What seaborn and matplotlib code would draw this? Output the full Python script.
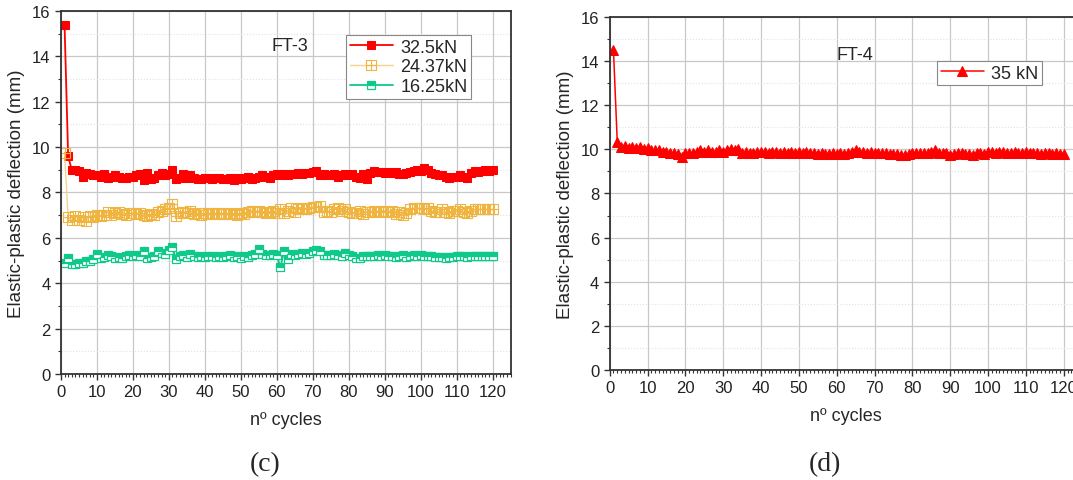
import numpy as np
import matplotlib
matplotlib.use("Agg")
import matplotlib.pyplot as plt
from matplotlib.path import Path
from matplotlib.ticker import MultipleLocator
import seaborn as sns

# Cycle numbers
cycles = list(range(1, 121))

# FT-3 series (elastic-plastic deflection, mm)
ft3_325 = [15.4, 9.6, 9.0, 9.0, 8.95, 8.7, 8.85, 8.8, 8.75, 8.75,
           8.7, 8.8, 8.65, 8.7, 8.75, 8.7, 8.65, 8.65, 8.7, 8.7,
           8.75, 8.8, 8.55, 8.85, 8.6, 8.65, 8.75, 8.85, 8.75, 8.8,
           9.0, 8.6, 8.65, 8.8, 8.65, 8.75, 8.65, 8.6, 8.6, 8.65,
           8.65, 8.6, 8.65, 8.65, 8.6, 8.6, 8.65, 8.55, 8.65, 8.6,
           8.65, 8.7, 8.6, 8.65, 8.7, 8.75, 8.7, 8.65, 8.75, 8.8,
           8.75, 8.8, 8.75, 8.8, 8.8, 8.85, 8.8, 8.85, 8.85, 8.9,
           8.95, 8.75, 8.8, 8.75, 8.75, 8.8, 8.7, 8.75, 8.8, 8.75,
           8.8, 8.7, 8.65, 8.8, 8.6, 8.85, 8.95, 8.9, 8.9, 8.85,
           8.9, 8.85, 8.9, 8.8, 8.8, 8.85, 8.9, 8.95, 9.0, 8.95,
           9.1, 9.0, 8.85, 8.8, 8.75, 8.75, 8.7, 8.65, 8.7, 8.7,
           8.75, 8.7, 8.65, 8.85, 8.95, 8.9, 8.95, 9.0, 8.95, 9.0]

ft3_2437 = [9.75, 6.9, 6.8, 6.95, 6.8, 6.9, 6.75, 6.95, 6.9, 7.0,
            6.95, 7.0, 7.15, 7.0, 7.1, 7.15, 7.05, 7.0, 7.1, 7.1,
            7.05, 7.1, 7.0, 6.95, 7.05, 7.0, 7.15, 7.2, 7.25, 7.3,
            7.5, 6.95, 7.1, 7.15, 7.1, 7.2, 7.05, 7.1, 7.0, 7.1,
            7.05, 7.1, 7.05, 7.1, 7.05, 7.05, 7.1, 7.05, 7.0, 7.1,
            7.05, 7.15, 7.2, 7.15, 7.2, 7.15, 7.1, 7.15, 7.2, 7.1,
            7.25, 7.1, 7.2, 7.3, 7.15, 7.25, 7.3, 7.25, 7.3, 7.35,
            7.35, 7.4, 7.15, 7.2, 7.15, 7.25, 7.3, 7.2, 7.25, 7.15,
            7.1, 7.1, 7.2, 7.05, 7.15, 7.15, 7.2, 7.15, 7.2, 7.2,
            7.15, 7.2, 7.05, 7.15, 7.0, 7.1, 7.25, 7.3, 7.3, 7.3,
            7.25, 7.3, 7.2, 7.15, 7.15, 7.25, 7.15, 7.1, 7.2, 7.2,
            7.25, 7.15, 7.1, 7.2, 7.25, 7.25, 7.25, 7.25, 7.25, 7.25]

ft3_1625 = [4.9, 5.1, 4.85, 4.85, 4.9, 4.9, 5.0, 5.0, 5.05, 5.3,
            5.1, 5.15, 5.25, 5.2, 5.1, 5.15, 5.1, 5.2, 5.25, 5.2,
            5.25, 5.2, 5.4, 5.1, 5.15, 5.2, 5.4, 5.35, 5.3, 5.45,
            5.6, 5.05, 5.2, 5.25, 5.15, 5.3, 5.2, 5.15, 5.2, 5.15,
            5.2, 5.2, 5.15, 5.2, 5.15, 5.2, 5.25, 5.15, 5.2, 5.1,
            5.2, 5.15, 5.25, 5.3, 5.5, 5.3, 5.25, 5.25, 5.3, 5.25,
            4.7, 5.4, 5.05, 5.3, 5.25, 5.3, 5.35, 5.3, 5.35, 5.4,
            5.45, 5.4, 5.25, 5.25, 5.25, 5.3, 5.25, 5.2, 5.35, 5.25,
            5.2, 5.1, 5.1, 5.2, 5.2, 5.2, 5.2, 5.25, 5.2, 5.25,
            5.2, 5.2, 5.15, 5.2, 5.25, 5.15, 5.2, 5.25, 5.2, 5.25,
            5.2, 5.2, 5.2, 5.15, 5.15, 5.15, 5.1, 5.15, 5.15, 5.2,
            5.2, 5.2, 5.15, 5.2, 5.2, 5.2, 5.2, 5.2, 5.2, 5.2]

# FT-4 series
ft4_35 = [14.5, 10.35, 10.1, 10.15, 10.05, 10.1, 10.05, 10.1, 10.0, 10.05,
          9.95, 9.95, 9.95, 9.9, 9.9, 9.85, 9.85, 9.8, 9.65, 9.85,
          9.85, 9.85, 9.9, 9.95, 9.9, 9.95, 9.9, 9.9, 9.95, 9.9,
          9.95, 10.0, 9.95, 10.0, 9.85, 9.9, 9.85, 9.85, 9.9, 9.9,
          9.9, 9.85, 9.9, 9.9, 9.85, 9.9, 9.85, 9.9, 9.85, 9.9,
          9.85, 9.9, 9.85, 9.85, 9.8, 9.85, 9.8, 9.8, 9.85, 9.8,
          9.85, 9.8, 9.85, 9.9, 9.95, 9.9, 9.9, 9.85, 9.9, 9.85,
          9.85, 9.85, 9.85, 9.8, 9.8, 9.8, 9.75, 9.75, 9.8, 9.85,
          9.85, 9.85, 9.85, 9.85, 9.9, 9.95, 9.85, 9.85, 9.85, 9.75,
          9.8, 9.85, 9.85, 9.8, 9.8, 9.75, 9.85, 9.85, 9.8, 9.9,
          9.9, 9.85, 9.9, 9.9, 9.85, 9.85, 9.9, 9.85, 9.85, 9.9,
          9.85, 9.85, 9.85, 9.8, 9.85, 9.85, 9.8, 9.85, 9.8, 9.8]

sns.set_style("white")
plt.rcParams["font.family"] = ["Liberation Sans", "DejaVu Sans"]

# square with a cross inside (Origin style marker)
sq_plus = Path(
    [(-1, -1), (1, -1), (1, 1), (-1, 1), (-1, -1), (0, -1), (0, 1), (-1, 0), (1, 0)],
    [Path.MOVETO, Path.LINETO, Path.LINETO, Path.LINETO, Path.CLOSEPOLY,
     Path.MOVETO, Path.LINETO, Path.MOVETO, Path.LINETO])

fig = plt.figure(figsize=(10.73, 4.81), dpi=100)
ax1 = fig.add_axes([0.0568, 0.2204, 0.4191, 0.7547])
ax2 = fig.add_axes([0.5682, 0.2287, 0.4408, 0.7339])

red = "#FF0000"
orange = "#EFB540"
green = "#0FC98A"

sns.lineplot(x=cycles, y=ft3_325, ax=ax1, color=red, linewidth=1.3, marker="s",
             markersize=5.8, markeredgecolor=red, markerfacecolor=red, label="32.5kN")
sns.lineplot(x=cycles, y=ft3_2437, ax=ax1, color="#F6D28E", linewidth=1.0, marker=sq_plus,
             markersize=6.5, markeredgecolor=orange, markerfacecolor="none",
             markeredgewidth=0.8, label="24.37kN")
sns.lineplot(x=cycles, y=ft3_1625, ax=ax1, color=green, linewidth=1.3, marker="s",
             markersize=5.8, markeredgecolor=green, markerfacecolor=green, fillstyle="top",
             markerfacecoloralt="white", markeredgewidth=0.9, label="16.25kN")

sns.lineplot(x=cycles, y=ft4_35, ax=ax2, color=red, linewidth=1.1, marker="^",
             markersize=6.5, markeredgecolor=red, markerfacecolor=red, label="35 kN")

for ax in (ax1, ax2):
    ax.set_xlim(0, 125)
    ax.set_ylim(0, 16)
    ax.set_xticks(range(0, 121, 10))
    ax.set_yticks(range(0, 17, 2))
    ax.xaxis.set_minor_locator(MultipleLocator(1))
    ax.yaxis.set_minor_locator(MultipleLocator(1))
    ax.grid(which="major", color="#c8c8c8", linewidth=0.9)
    ax.grid(which="minor", axis="y", color="#e2e2e2", linewidth=0.8, linestyle=":")
    ax.set_axisbelow(True)
    ax.tick_params(which="major", direction="out", length=4, width=1, colors="#333333",
                   labelsize=12, labelcolor="#222222")
    ax.tick_params(which="minor", direction="out", length=2, width=0.8, colors="#333333")
    ax.tick_params(left=True, bottom=True)
    ax.tick_params(which="minor", left=True, bottom=True)
    for s in ax.spines.values():
        s.set_color("#333333")
        s.set_linewidth(1.3)
    ax.set_xlabel("nº cycles", fontsize=13, labelpad=8)
    ax.set_ylabel("Elastic-plastic deflection (mm)", fontsize=13.5, labelpad=5)

leg1 = ax1.legend(loc="upper left", bbox_to_anchor=(0.634, 0.934), borderaxespad=0,
                  fontsize=13, fancybox=False, edgecolor="#888888", framealpha=1,
                  handlelength=2.4, handletextpad=0.4, labelspacing=0.15, borderpad=0.2)
leg1.get_frame().set_linewidth(0.8)
leg2 = ax2.legend(loc="upper left", bbox_to_anchor=(0.692, 0.875), borderaxespad=0,
                  fontsize=13, fancybox=False, edgecolor="#888888", framealpha=1,
                  handlelength=2.4, handletextpad=0.4, borderpad=0.2)
leg2.get_frame().set_linewidth(0.8)

ax1.text(0.509, 0.906, "FT-3", transform=ax1.transAxes, fontsize=13, ha="center", va="center")
ax2.text(0.519, 0.895, "FT-4", transform=ax2.transAxes, fontsize=13, ha="center", va="center")

fig.text(265 / 1073, 1 - 465 / 481, "(c)", fontsize=20, ha="center", va="center",
         family=["Liberation Serif", "DejaVu Serif"])
fig.text(825 / 1073, 1 - 465 / 481, "(d)", fontsize=20, ha="center", va="center",
         family=["Liberation Serif", "DejaVu Serif"])

fig.savefig("out.png", dpi=100)
